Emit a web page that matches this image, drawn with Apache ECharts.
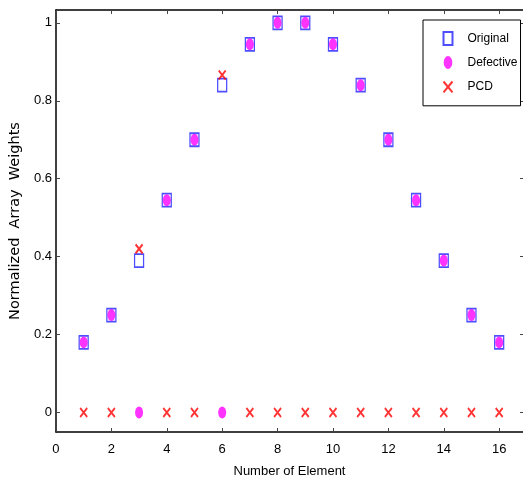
<!DOCTYPE html>
<html>
<head>
<meta charset="utf-8">
<script src="https://cdn.jsdelivr.net/npm/echarts@6/dist/echarts.min.js"></script>
<style>
  html, body { margin: 0; padding: 0; background: #fff; }
  #main { width: 523px; height: 485px; }
</style>
</head>
<body>
<div id="main"></div>
<script type="text/javascript">
// element numbers and weights
var elements = [1, 2, 3, 4, 5, 6, 7, 8, 9, 10, 11, 12, 13, 14, 15, 16];
var original = [0.18, 0.25, 0.39, 0.545, 0.70, 0.84, 0.945, 1.0, 1.0, 0.945, 0.84, 0.70, 0.545, 0.39, 0.25, 0.18];
var defective = [0.18, 0.25, 0, 0.545, 0.70, 0, 0.945, 1.0, 1.0, 0.945, 0.84, 0.70, 0.545, 0.39, 0.25, 0.18];
var pcd = [0, 0, 0.42, 0, 0, 0.866, 0, 0, 0, 0, 0, 0, 0, 0, 0, 0];
var yTicks = [0, 0.2, 0.4, 0.6, 0.8, 1];

function pairs(vals) {
  return elements.map(function (e, i) { return [e, vals[i]]; });
}

var chart = echarts.init(document.getElementById('main'));
var font = 'Liberation Sans, Arial, sans-serif';
var xMax = 16.86;
var ellipse = 'path://M0,6A4,6 0 1,1 8,6A4,6 0 1,1 0,6Z';

chart.setOption({
  animation: false,
  grid: { left: 55, top: 10, right: 0, bottom: 53 },
  legend: {
    orient: 'vertical',
    left: 423, top: 20,
    padding: [11, 3, 11, 18],
    itemGap: 10,
    itemWidth: 9, itemHeight: 13,
    backgroundColor: '#fff',
    borderColor: '#000', borderWidth: 1,
    textStyle: { fontFamily: font, fontSize: 12, color: '#000', padding: [0, 0, 0, 10] },
    data: ['Original', { name: 'Defective', icon: ellipse }, 'PCD']
  },
  xAxis: [{
    type: 'value', min: 0, max: xMax, interval: 2,
    name: 'Number of Element', nameLocation: 'middle', nameGap: 33,
    nameTextStyle: { fontFamily: font, fontSize: 13, color: '#000' },
    axisLine: { onZero: false, lineStyle: { color: '#000', width: 1.5 } },
    axisTick: { inside: true, length: 4, lineStyle: { color: '#444' } },
    axisLabel: { fontFamily: font, fontSize: 13, color: '#000', margin: 11,
      showMaxLabel: false },
    splitLine: { show: false }
  }, {
    type: 'value', position: 'top', min: 0, max: xMax, interval: 2,
    axisLine: { onZero: false, lineStyle: { color: '#000', width: 1.5 } },
    axisTick: { inside: true, length: 4, lineStyle: { color: '#444' } },
    axisLabel: { show: false },
    splitLine: { show: false }
  }],
  yAxis: [{
    type: 'value', min: -0.05, max: 1.033,
    name: 'Normalized  Array  Weights', nameLocation: 'middle', nameGap: 27,
    nameTextStyle: { fontFamily: 'DejaVu Sans, sans-serif', fontSize: 14.5, color: '#000' },
    axisLine: { onZero: false, lineStyle: { color: '#000', width: 1.5 } },
    axisTick: { inside: true, length: 4, customValues: yTicks, lineStyle: { color: '#444' } },
    axisLabel: { fontFamily: font, fontSize: 13, color: '#000', margin: 4,
      customValues: yTicks, formatter: function (v) { return String(Math.round(v * 10) / 10); } },
    splitLine: { show: false }
  }, {
    type: 'value', position: 'right', min: -0.05, max: 1.033,
    axisLine: { show: false, onZero: false },
    axisTick: { show: true, inside: true, length: 3, customValues: yTicks, lineStyle: { color: '#444' } },
    axisLabel: { show: false },
    splitLine: { show: false }
  }],
  series: [{
    name: 'Original', type: 'scatter',
    symbol: 'rect', symbolSize: [9, 13],
    itemStyle: { color: 'rgba(255,255,255,0)', borderColor: '#2222ff', borderWidth: 1.5 },
    data: pairs(original)
  }, {
    name: 'Defective', type: 'scatter',
    symbol: 'circle', symbolSize: [8, 12],
    itemStyle: { color: '#ff00ff' },
    data: pairs(defective)
  }, {
    name: 'PCD', type: 'scatter',
    symbol: 'path://M0,0L10,12M10,0L0,12', symbolSize: [7, 9],
    itemStyle: { color: 'none', borderColor: '#ff0000', borderWidth: 2 },
    data: pairs(pcd)
  }]
});
</script>
</body>
</html>
